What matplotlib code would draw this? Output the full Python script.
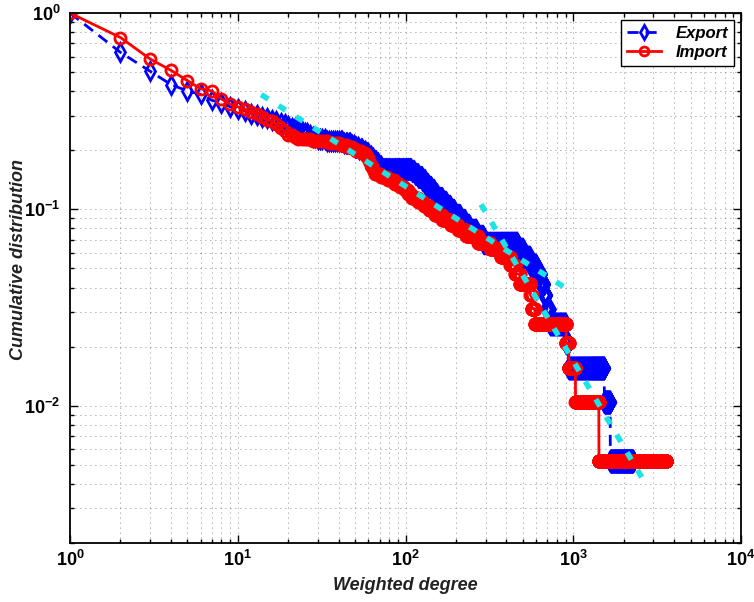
import numpy as np
import matplotlib
matplotlib.use('Agg')
import matplotlib.pyplot as plt
from matplotlib.ticker import FixedLocator, LogLocator, NullFormatter, FuncFormatter

plt.rcParams['font.family'] = ['Liberation Sans', 'DejaVu Sans']
plt.rcParams['mathtext.fontset'] = 'custom'
plt.rcParams['mathtext.rm'] = 'Liberation Sans:bold'
plt.rcParams['mathtext.bf'] = 'Liberation Sans:bold'

# weighted degree of the countries (value, how many countries have it)
export_val = [1, 2, 3, 4, 5, 6, 7, 8, 9, 10, 11,
              12, 13, 14, 15, 16, 17, 18, 19, 20, 22, 23, 24, 26, 27, 29, 33, 42,
              47, 49, 52, 55, 57, 60, 62, 64, 67, 69, 71, 108, 113, 118, 125, 130,
              136, 142, 148, 154, 165, 175, 185, 195, 210, 225, 240, 265, 290, 465,
              500, 550, 600, 640, 670, 690, 722, 900, 935, 1530, 1660, 2270]
export_cnt = [71, 24, 14, 6, 3, 5, 2, 3, 2, 1, 2] + [1] * 59

import_val = [1, 2, 3, 4, 5, 6, 7, 8, 9, 10, 11,
              12, 13, 14, 15, 16, 17, 18, 19,
              21, 22, 27, 34, 40, 44, 48, 50, 54, 57, 59, 60, 61,
              63, 64, 65, 70, 78, 85, 92, 98, 103, 108, 118, 128, 138, 148, 165,
              185, 205, 230, 270, 320, 370, 420, 450, 480, 555, 565, 590, 905, 940,
              1030, 1420, 3580]
import_cnt = [48, 32, 14, 11, 8, 2, 7, 4, 2, 2, 2,
              1, 2, 2, 1, 2, 2, 2, 2,
              1, 1, 1, 1, 1, 1, 1, 1, 1, 1, 1, 1, 2] + [1] * 32

# power-law fit segments (end points)
fit1_x = [13.8, 896]
fit1_y = [0.384, 0.0399]
fit2_x = [282, 2709]
fit2_y = [0.106, 0.00398]


def ccdf(vals, cnts):
    deg = np.repeat(np.array(vals, dtype=float), cnts)
    k = np.arange(1, int(deg.max()) + 1)
    p = (deg[None, :] >= k[:, None]).mean(axis=1)
    return k, p


xe, ye = ccdf(export_val, export_cnt)
xi, yi = ccdf(import_val, import_cnt)

fig = plt.figure(figsize=(7.54, 6.02), dpi=100)
ax = fig.add_axes([70 / 754, 1 - 543 / 602, 671 / 754, 530 / 602])

ax.plot(xe, ye, color='b', ls=(0, (4, 2.5)), lw=2, marker='d', ms=9,
        mfc='none', mec='b', mew=2, label='Export')
ax.plot(xi, yi, color='r', ls='-', lw=2, marker='o', ms=8,
        mfc='none', mec='r', mew=2, label='Import')
cyan = '#1CE4E4'
ax.plot(fit1_x, fit1_y, color=cyan, ls=(0, (1.5, 2.2)), lw=4)
ax.plot(fit2_x, fit2_y, color=cyan, ls=(0, (1.5, 2.2)), lw=4)

ax.set_xscale('log')
ax.set_yscale('log')
ax.set_xlim(1, 1e4)
ax.set_ylim(2e-3, 1)

fmt = FuncFormatter(lambda v, pos: r'$\mathbf{10^{%d}}$' % round(np.log10(v)))
ax.xaxis.set_major_locator(FixedLocator([1, 10, 100, 1000, 10000]))
ax.yaxis.set_major_locator(FixedLocator([1e-2, 1e-1, 1]))
ax.xaxis.set_major_formatter(fmt)
ax.yaxis.set_major_formatter(fmt)
ax.xaxis.set_minor_locator(LogLocator(base=10, subs=np.arange(2, 10), numticks=50))
ax.yaxis.set_minor_locator(LogLocator(base=10, subs=np.arange(2, 10), numticks=50))
ax.xaxis.set_minor_formatter(NullFormatter())
ax.yaxis.set_minor_formatter(NullFormatter())

ax.tick_params(which='both', direction='in', top=True, right=True, width=1)
ax.tick_params(which='major', length=6, labelsize=13)
ax.tick_params(which='minor', length=3)
ax.tick_params(axis='x', which='major', pad=5)
ax.tick_params(axis='y', which='major', pad=7)
for s in ax.spines.values():
    s.set_linewidth(1.3)

ax.grid(True, which='both', ls=(0, (1, 5)), lw=0.6, color='#666666')
ax.set_axisbelow(True)

ax.set_xlabel('Weighted degree', fontsize=13, fontweight='bold',
              fontstyle='italic', color='#222222')
ax.set_ylabel('Cumulative distribution', fontsize=13, fontweight='bold',
              fontstyle='italic', color='#222222')
ax.xaxis.set_label_coords(0.5, -0.065)
ax.yaxis.set_label_coords(-0.064, 0.534)

leg = ax.legend(loc='upper right', bbox_to_anchor=(734 / 754, 1 - 20 / 602),
                bbox_transform=fig.transFigure, borderaxespad=0,
                fancybox=False, edgecolor='k', framealpha=1,
                prop={'weight': 'bold', 'style': 'italic', 'size': 12},
                handlelength=2.0, handletextpad=0.9, borderpad=0.35,
                labelspacing=0.25, markerscale=0.8)
leg.get_frame().set_linewidth(1.0)

fig.savefig('out.png', dpi=100, facecolor='white')
